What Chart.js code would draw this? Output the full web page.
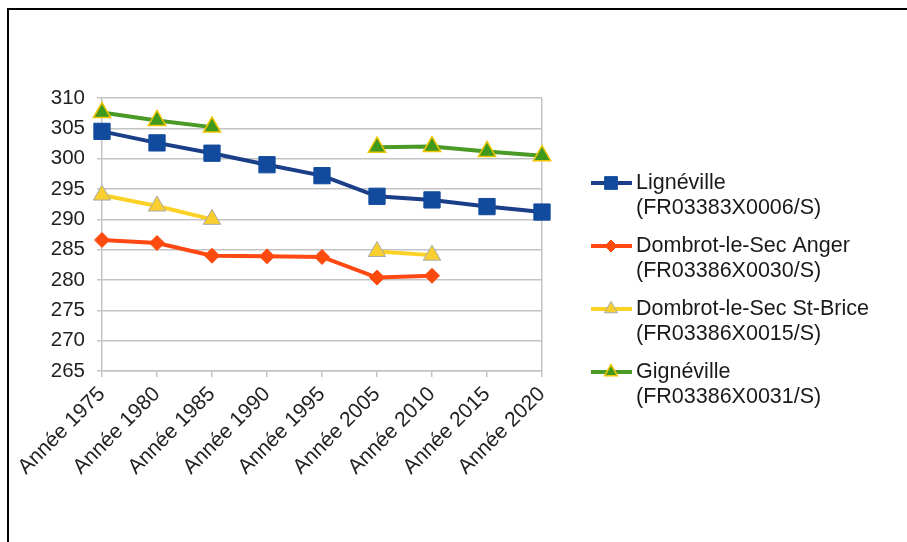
<!DOCTYPE html>
<html>
<head>
<meta charset="utf-8">
<script src="https://cdn.jsdelivr.net/npm/chart.js@4.4.1/dist/chart.umd.min.js"></script>
<style>
  body { margin: 0; background: #fff; overflow: hidden; }
  #wrap { position: relative; width: 907px; height: 542px; }
  #frame { position: absolute; left: 7px; top: 8px; width: 910px; height: 540px;
           border-top: 2px solid #000; border-left: 2px solid #000; }
  canvas { position: absolute; left: 0; top: 0; }
</style>
</head>
<body>
<div id="wrap">
  <canvas id="charts__niveaux" width="907" height="542"></canvas>
  <div id="frame"></div>
</div>
<script>
// années de mesure
var categories = ['Année 1975', 'Année 1980', 'Année 1985', 'Année 1990', 'Année 1995',
                  'Année 2005', 'Année 2010', 'Année 2015', 'Année 2020'];

// cotes piézométriques (m NGF), null = pas de mesure
var lignevilleValues = [304.5, 302.6, 300.9, 299.0, 297.2, 293.8, 293.2, 292.1, 291.2];
var angerValues      = [286.6, 286.1, 284.0, 283.9, 283.8, 280.4, 280.7, null, null];
var briceValues      = [294.0, 292.2, 290.0, null, null, 284.7, 284.1, null, null];
var gignevilleValues = [307.6, 306.3, 305.2, null, null, 301.9, 302.0, 301.2, 300.5];

var yTicks = [265, 270, 275, 280, 285, 290, 295, 300, 305, 310];

var labelsLegende = [
  ['Lignéville', '(FR03383X0006/S)'],
  ['Dombrot-le-Sec Anger', '(FR03386X0030/S)'],
  ['Dombrot-le-Sec St-Brice', '(FR03386X0015/S)'],
  ['Gignéville', '(FR03386X0031/S)']
];

var gridColor = '#c3c3c3';
var fontFamily = '"Liberation Sans", Arial, sans-serif';

// legende a droite, deux lignes par serie
var legendeDroite = {
  id: 'legendeDroite',
  afterDraw: function (chart) {
    var ctx = chart.ctx;
    ctx.save();
    chart.data.datasets.forEach(function (ds, i) {
      var y = 183 + i * 63;
      ctx.strokeStyle = ds.borderColor;
      ctx.lineWidth = 4;
      ctx.beginPath();
      ctx.moveTo(591, y);
      ctx.lineTo(632, y);
      ctx.stroke();

      ctx.fillStyle = ds.pointBackgroundColor;
      ctx.strokeStyle = ds.pointBorderColor;
      ctx.lineWidth = ds.pointBorderWidth;
      Chart.helpers.drawPoint(ctx, {
        pointStyle: ds.pointStyle,
        radius: ds.legendRadius,
        borderWidth: ds.pointBorderWidth,
        rotation: 0
      }, 611, y);

      ctx.fillStyle = '#1a1a1a';
      ctx.font = '21.5px ' + fontFamily;
      ctx.textBaseline = 'middle';
      ctx.textAlign = 'left';
      ctx.fillText(labelsLegende[i][0], 636, y);
      ctx.fillText(labelsLegende[i][1], 636, y + 25);
    });
    ctx.restore();
  }
};

var niveaux = document.getElementById('charts__niveaux').getContext('2d');
var charts__niveaux = new Chart(niveaux, {
  type: 'line',
  data: {
    labels: categories,
    datasets: [{
      label: labelsLegende[0].join(' '),
      data: lignevilleValues,
      borderColor: '#1a3f88',
      borderWidth: 4,
      pointStyle: 'rect',
      pointRadius: 11.5,
      legendRadius: 9,
      pointBackgroundColor: '#124b9d',
      pointBorderColor: '#124b9d',
      pointBorderWidth: 1
    }, {
      label: labelsLegende[1].join(' '),
      data: angerValues,
      borderColor: '#ff4812',
      borderWidth: 4,
      pointStyle: 'rectRot',
      pointRadius: 7.5,
      legendRadius: 6,
      pointBackgroundColor: '#ff4a0d',
      pointBorderColor: '#ff4a0d',
      pointBorderWidth: 1
    }, {
      label: labelsLegende[2].join(' '),
      data: briceValues,
      borderColor: '#fbd126',
      borderWidth: 4,
      pointStyle: 'triangle',
      pointRadius: 10,
      legendRadius: 7.5,
      pointBackgroundColor: '#f8cf2e',
      pointBorderColor: '#a9a9a9',
      pointBorderWidth: 1
    }, {
      label: labelsLegende[3].join(' '),
      data: gignevilleValues,
      borderColor: '#4a9a26',
      borderWidth: 4,
      pointStyle: 'triangle',
      pointRadius: 10,
      legendRadius: 7.5,
      pointBackgroundColor: '#3f991c',
      pointBorderColor: '#efc400',
      pointBorderWidth: 1.5
    }]
  },
  options: {
    responsive: false,
    animation: false,
    spanGaps: false,
    layout: { padding: { left: 0, top: 98, right: 365, bottom: 0 } },
    plugins: {
      legend: { display: false },
      tooltip: { enabled: false }
    },
    elements: { line: { tension: 0 } },
    scales: {
      x: {
        offset: false,
        afterFit: function (scale) { scale.height = 171; },
        border: { color: gridColor, width: 1.5 },
        grid: {
          color: function (c) { return c.index === categories.length - 1 ? gridColor : 'transparent'; },
          tickColor: gridColor,
          lineWidth: 1.5,
          tickLength: 6
        },
        ticks: {
          minRotation: 45,
          maxRotation: 45,
          padding: 5,
          color: '#222',
          font: { family: fontFamily, size: 21 }
        }
      },
      y: {
        min: 265,
        max: 310,
        afterFit: function (scale) { scale.width = 102; },
        afterBuildTicks: function (scale) {
          scale.ticks = yTicks.map(function (v) { return { value: v }; });
        },
        border: { color: gridColor, width: 1.5 },
        grid: { color: gridColor, lineWidth: 1.5, tickLength: 5 },
        ticks: {
          padding: 12,
          color: '#222',
          font: { family: fontFamily, size: 20.5 }
        }
      }
    }
  },
  plugins: [legendeDroite]
});
</script>
</body>
</html>
